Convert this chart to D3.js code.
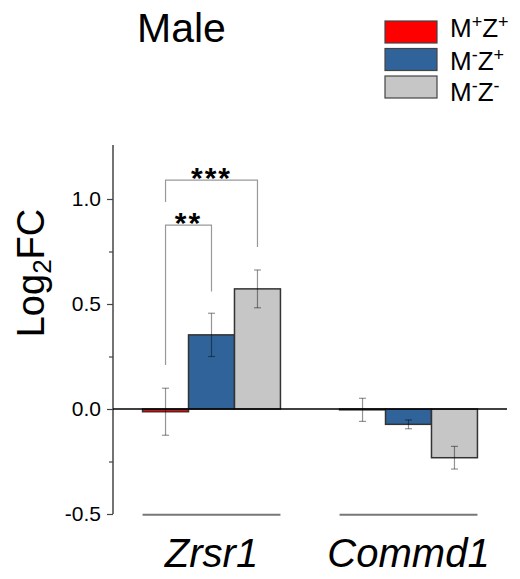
<!DOCTYPE html>
<html>
<head>
<meta charset="utf-8">
<script src="https://cdn.jsdelivr.net/npm/d3@7"></script>
<style>
  body { margin: 0; background: #fff; }
  svg text { font-family: Arial, "Liberation Sans", sans-serif; }
</style>
</head>
<body>
<div id="chart"></div>
<script>
// genes on the x axis and the three genotypes drawn per gene
const genes = ['Zrsr1', 'Commd1']
const groups = [
  {id: 'MpZp', m: '+', z: '+', color: '#ff0000'},
  {id: 'MmZp', m: '-', z: '+', color: '#30639a'},
  {id: 'MmZm', m: '-', z: '-', color: '#c6c6c6'}
]

// log2 fold change (mean) and its error, one entry per gene, ordered as groups
const meanMpZp = [-0.013, -0.004]
const meanMmZp = [0.353, -0.073]
const meanMmZm = [0.572, -0.232]
const errMpZp = [0.112, 0.055]
const errMmZp = [0.103, 0.021]
const errMmZm = [0.09, 0.054]

const majorTicks = [-0.5, 0, 0.5, 1.0]
const minorTicks = [-0.25, 0.25, 0.75]

// significance brackets on Zrsr1: top of bracket and where each leg stops (log2FC units)
const sigLabels = ['**', '***']
const sigFrom = ['MpZp', 'MpZp']
const sigTo = ['MmZp', 'MmZm']
const sigTop = [0.876, 1.09]
const sigLegFrom = [0.21, 0.986]
const sigLegTo = [0.56, 0.771]

const means = [meanMpZp, meanMmZp, meanMmZm]
const errs = [errMpZp, errMmZp, errMmZm]

const width = 520
const height = 579

const svg = d3.select('#chart')
  .append('svg')
  .attr('width', width)
  .attr('height', height)

const x = d3.scaleBand()
  .domain(genes)
  .range([113, 507])
  .paddingInner(0.3)
  .paddingOuter(0.15)

const xs = d3.scaleBand()
  .domain(groups.map(g => g.id))
  .range([0, x.bandwidth()])

const y = d3.scaleLinear()
  .domain([-0.5, 1.25])
  .range([514, 146.5])

// y axis: major and minor ticks
const yAxis = svg.append('g')
  .attr('transform', 'translate(113,0)')
  .call(d3.axisLeft(y).tickValues(majorTicks).tickSize(6).tickPadding(6).tickFormat(d => d.toFixed(1)))
yAxis.selectAll('text').style('font-size', '21px').attr('fill', '#000')
yAxis.select('.domain').attr('stroke', '#444').attr('stroke-width', 1.5).attr('d', `M0,${y(-0.5)}V${y(1.25) - 1.5}`)
yAxis.selectAll('.tick line').attr('stroke', '#444').attr('stroke-width', 1.2)

svg.append('g')
  .attr('transform', 'translate(113,0)')
  .call(d3.axisLeft(y).tickValues(minorTicks).tickSize(4).tickFormat(''))
  .call(g => g.select('.domain').remove())
  .selectAll('.tick line').attr('stroke', '#444').attr('stroke-width', 1.2)

// bars
const rows = []
genes.forEach((gene, gi) => {
  groups.forEach((grp, si) => {
    rows.push({gene, grp, mean: means[si][gi], err: errs[si][gi]})
  })
})

const bars = svg.append('g')
bars.selectAll('rect')
  .data(rows)
  .enter()
  .append('rect')
  .attr('x', d => x(d.gene) + xs(d.grp.id))
  .attr('y', d => y(Math.max(0, d.mean)))
  .attr('width', xs.bandwidth())
  .attr('height', d => Math.abs(y(d.mean) - y(0)))
  .attr('fill', d => d.grp.color)
  .attr('stroke', '#333')
  .attr('stroke-width', 1.5)

// error bars
const eb = svg.append('g')
  .attr('stroke', 'rgba(0,0,0,0.42)')
  .attr('stroke-width', 1.2)
  .selectAll('g')
  .data(rows)
  .enter()
  .append('g')
  .attr('transform', d => `translate(${x(d.gene) + xs(d.grp.id) + xs.bandwidth() / 2},0)`)
eb.append('line')
  .attr('y1', d => y(d.mean + d.err))
  .attr('y2', d => y(d.mean - d.err))
eb.append('line')
  .attr('x1', -3.5).attr('x2', 3.5)
  .attr('y1', d => y(d.mean + d.err)).attr('y2', d => y(d.mean + d.err))
eb.append('line')
  .attr('x1', -3.5).attr('x2', 3.5)
  .attr('y1', d => y(d.mean - d.err)).attr('y2', d => y(d.mean - d.err))

// zero line
svg.append('line')
  .attr('x1', x.range()[0]).attr('x2', x.range()[1])
  .attr('y1', y(0)).attr('y2', y(0))
  .attr('stroke', '#000')
  .attr('stroke-width', 1.5)

// group underlines
svg.append('g')
  .selectAll('line')
  .data(genes)
  .enter()
  .append('line')
  .attr('x1', d => x(d))
  .attr('x2', d => x(d) + x.bandwidth())
  .attr('y1', y(-0.5) + 0.7).attr('y2', y(-0.5) + 0.7)
  .attr('stroke', '#777')
  .attr('stroke-width', 2)

// gene names
svg.append('g')
  .selectAll('text')
  .data(genes)
  .enter()
  .append('text')
  .attr('x', d => x(d) + x.bandwidth() / 2)
  .attr('y', 567)
  .attr('text-anchor', 'middle')
  .style('font-size', '40px')
  .style('font-style', 'italic')
  .text(d => d)

// significance brackets
const cx = id => x('Zrsr1') + xs(id) + xs.bandwidth() / 2
const sig = svg.append('g')
sigLabels.forEach((lab, i) => {
  const x1 = cx(sigFrom[i])
  const x2 = cx(sigTo[i])
  sig.append('path')
    .attr('d', `M${x1},${y(sigLegFrom[i])}V${y(sigTop[i])}H${x2}V${y(sigLegTo[i])}`)
    .attr('fill', 'none')
    .attr('stroke', '#999')
    .attr('stroke-width', 1.2)
  sig.append('text')
    .attr('x', (x1 + x2) / 2)
    .attr('y', y(sigTop[i]) + 8)
    .attr('text-anchor', 'middle')
    .style('font-size', '30px')
    .style('font-weight', 'bold')
    .style('letter-spacing', '2px')
    .text(lab)
})

// y axis title
const yt = svg.append('text')
  .attr('transform', 'translate(44,273) rotate(-90)')
  .attr('text-anchor', 'middle')
  .style('font-size', '38px')
yt.append('tspan').text('Log')
yt.append('tspan').attr('dy', 7).style('font-size', '26px').text('2')
yt.append('tspan').attr('dy', -7).text('FC')

// title
svg.append('text')
  .attr('x', 137)
  .attr('y', 42)
  .style('font-size', '41px')
  .text('Male')

// legend
const legBoxY = [21, 48.5, 76]
const legTextY = [37, 70, 101]
const legend = svg.append('g')
groups.forEach((grp, i) => {
  legend.append('rect')
    .attr('x', 385).attr('y', legBoxY[i])
    .attr('width', 52).attr('height', 22)
    .attr('fill', grp.color)
    .attr('stroke', '#444')
    .attr('stroke-width', 1.2)
  const t = legend.append('text')
    .attr('x', 450).attr('y', legTextY[i])
    .style('font-size', '26px')
  t.append('tspan').text('M')
  t.append('tspan').attr('dy', -9).style('font-size', '18px').text(grp.m)
  t.append('tspan').attr('dy', 9).text('Z')
  t.append('tspan').attr('dy', -9).style('font-size', '18px').text(grp.z)
})
</script>
</body>
</html>
